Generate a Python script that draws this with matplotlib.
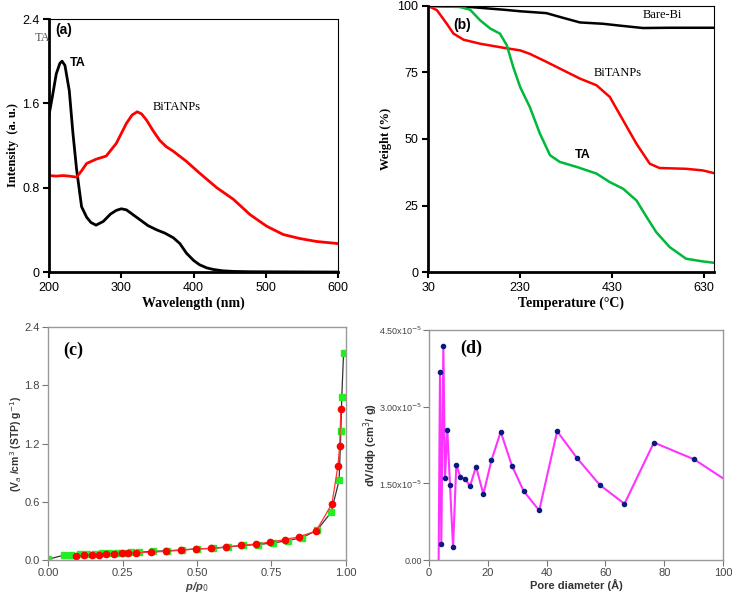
import numpy as np
import matplotlib
matplotlib.use("Agg")
import matplotlib.pyplot as plt
from matplotlib.ticker import FuncFormatter

plt.rcParams['font.family'] = ['Liberation Sans', 'DejaVu Sans']

# (a) UV-vis spectra
wl_ta = [200, 205, 210, 215, 218, 222, 228, 233, 238, 245, 252, 258, 265, 275, 285, 293, 300, 307,
         315, 325, 337, 349, 360, 372, 381, 390, 400, 408, 418, 427, 440, 455, 480, 520, 600]
int_ta = [1.49, 1.68, 1.88, 1.98, 2.0, 1.96, 1.72, 1.32, 0.98, 0.62, 0.52, 0.47, 0.445, 0.48, 0.55,
          0.585, 0.6, 0.59, 0.55, 0.50, 0.44, 0.40, 0.37, 0.325, 0.27, 0.18, 0.11, 0.07, 0.04, 0.025,
          0.012, 0.006, 0.003, 0.002, 0.0]
wl_bi = [200, 210, 219, 228, 238, 245, 252, 265, 279, 293, 307, 315, 322, 328, 335, 344, 353, 362,
         372, 390, 408, 432, 455, 478, 501, 524, 547, 570, 600]
int_bi = [0.915, 0.91, 0.915, 0.91, 0.90, 0.96, 1.03, 1.07, 1.10, 1.22, 1.41, 1.49, 1.52, 1.50,
          1.44, 1.34, 1.25, 1.19, 1.145, 1.05, 0.94, 0.80, 0.69, 0.545, 0.435, 0.356, 0.318, 0.29, 0.27]

# (b) TGA
t_bare = [30, 121, 193, 230, 287, 324, 360, 410, 447, 497, 555, 651]
w_bare = [100, 99.6, 98.6, 98.0, 97.3, 95.5, 93.8, 93.3, 92.6, 91.7, 91.8, 91.8]
t_bitanps = [30, 49, 70, 85, 107, 143, 193, 230, 251, 287, 324, 360, 396, 425, 454, 483, 512,
             533, 591, 627, 651]
w_bitanps = [100, 98.4, 93.4, 89.6, 87.3, 85.8, 84.3, 83.3, 82.0, 79.0, 75.8, 72.7, 70.2, 65.8,
             57.0, 48.2, 40.7, 39.1, 38.8, 38.2, 37.2]
t_ta = [30, 99, 121, 143, 165, 186, 201, 215, 230, 251, 273, 295, 316, 353, 396, 425, 454, 483,
        505, 526, 555, 591, 627, 651]
w_ta = [100, 99.6, 98.6, 94.6, 91.5, 89.6, 85.2, 77.0, 69.5, 62.0, 52.0, 43.9, 41.4, 39.5, 37.0,
        33.8, 31.3, 26.9, 20.7, 15.0, 9.4, 5.0, 4.0, 3.5]

# (c) N2 isotherm
p_ads = [0.0, 0.053, 0.078, 0.107, 0.131, 0.157, 0.18, 0.205, 0.23, 0.256, 0.28, 0.306, 0.353,
         0.40, 0.45, 0.50, 0.555, 0.605, 0.655, 0.705, 0.754, 0.804, 0.852, 0.902, 0.95, 0.977,
         0.983, 0.986, 0.992]
v_ads = [0.007, 0.05, 0.055, 0.06, 0.063, 0.066, 0.068, 0.071, 0.074, 0.077, 0.078, 0.08, 0.09,
         0.095, 0.105, 0.115, 0.12, 0.135, 0.15, 0.16, 0.175, 0.2, 0.23, 0.305, 0.49, 0.82, 1.33,
         1.68, 2.13]
p_des = [0.095, 0.12, 0.146, 0.172, 0.196, 0.22, 0.247, 0.27, 0.295, 0.344, 0.395, 0.446, 0.497,
         0.546, 0.597, 0.647, 0.697, 0.745, 0.794, 0.844, 0.90, 0.953, 0.973, 0.979, 0.983]
v_des = [0.041, 0.048, 0.05, 0.055, 0.058, 0.065, 0.07, 0.07, 0.075, 0.08, 0.09, 0.1, 0.115, 0.12,
         0.135, 0.15, 0.165, 0.185, 0.21, 0.24, 0.30, 0.58, 0.97, 1.18, 1.56]

# (d) pore size distribution (first and last points are line ends only)
pore_d = [3.3, 3.75, 4.2, 4.9, 5.45, 6.25, 7.16, 8.2, 9.3, 10.7, 12.4, 14.0, 16.0, 18.5, 21.25,
          24.4, 28.2, 32.2, 37.5, 43.6, 50.3, 58.1, 66.5, 76.5, 90.2, 100]
dv = [0.0, 3.68, 0.31, 4.19, 1.61, 2.54, 1.47, 0.25, 1.86, 1.63, 1.58, 1.45, 1.83, 1.29, 1.95,
      2.51, 1.85, 1.35, 0.97, 2.52, 2.0, 1.47, 1.10, 2.30, 1.97, 1.60]

serif = ['Liberation Serif', 'DejaVu Serif']

fig = plt.figure(figsize=(7.32, 5.94), dpi=100)

# ---- (a)
ax = fig.add_axes([0.067, 0.542, 0.395, 0.426])
ax.plot(wl_ta, int_ta, color='black', lw=2)
ax.plot(wl_bi, int_bi, color='#ff0000', lw=2)
ax.set_xlim(200, 600)
ax.set_ylim(0, 2.4)
ax.set_xticks([200, 300, 400, 500, 600])
ax.set_yticks([0, 0.8, 1.6, 2.4])
ax.set_yticklabels(['0', '0.8', '1.6', '2.4'])
ax.set_xlabel('Wavelength (nm)', family=serif, fontweight='bold', fontsize=10, labelpad=2)
ax.set_ylabel('Intensity  (a. u.)', family=serif, fontweight='bold', fontsize=9, labelpad=2)
ax.text(208, 2.3, '(a)', fontweight='bold', fontsize=10, va='center')
ax.text(229, 1.98, 'TA', fontweight='bold', fontsize=9, va='center')
ax.text(344, 1.565, 'BiTANPs', family=serif, fontsize=9, va='center')
ax.text(-0.048, 0.925, 'TA', family=serif, fontsize=9, color='#555555', transform=ax.transAxes,
        va='center')

# ---- (b)
bx = fig.add_axes([0.585, 0.542, 0.39, 0.448])
bx.plot(t_bare, w_bare, color='black', lw=1.8)
bx.plot(t_bitanps, w_bitanps, color='#ff0000', lw=1.8)
bx.plot(t_ta, w_ta, color='#00b83a', lw=1.8)
bx.set_xlim(30, 651)
bx.set_ylim(0, 100)
bx.set_xticks([30, 230, 430, 630])
bx.set_yticks([0, 25, 50, 75, 100])
bx.set_xlabel('Temperature (\u00b0C)', family=serif, fontweight='bold', fontsize=10, labelpad=2)
bx.set_ylabel('Weight (%)', family=serif, fontweight='bold', fontsize=9, labelpad=4)
bx.text(85, 92.7, '(b)', fontweight='bold', fontsize=10, va='center')
bx.text(497, 96.5, 'Bare-Bi', family=serif, fontsize=9, va='center')
bx.text(389, 74.8, 'BiTANPs', family=serif, fontsize=9, va='center')
bx.text(349, 43.9, 'TA', fontweight='bold', fontsize=9, va='center')

for a in (ax, bx):
    a.spines['left'].set_linewidth(2)
    a.spines['bottom'].set_linewidth(2)
    a.spines['top'].set_linewidth(0.8)
    a.spines['right'].set_linewidth(0.8)
    a.tick_params(direction='out', length=4, width=1.5, labelsize=9, pad=3)

# ---- (c)
cx = fig.add_axes([0.0656, 0.0572, 0.407, 0.392])
cx.plot(p_ads, v_ads, color='#333333', lw=0.9, marker='s', ms=4, mfc='#22ee22', mec='#22ee22')
cx.plot(p_des, v_des, color='#ff3333', lw=0.9, marker='o', ms=4.5, mfc='#ff0000', mec='#ff0000')
cx.set_xlim(0, 1)
cx.set_ylim(0, 2.4)
cx.set_xticks([0, 0.25, 0.5, 0.75, 1.0])
cx.set_xticklabels(['0.00', '0.25', '0.50', '0.75', '1.00'])
cx.set_yticks([0, 0.6, 1.2, 1.8, 2.4])
cx.set_yticklabels(['0.0', '0.6', '1.2', '1.8', '2.4'])
cx.set_xlabel('p/p$_0$', fontstyle='italic', fontweight='bold', fontsize=8, color='#444444')
cx.xaxis.set_label_coords(0.5, -0.085)
cx.set_ylabel('(V$_a$ /cm$^3$ (STP) g$^{-1}$)', fontweight='bold', fontsize=7.5, color='#333333')
cx.yaxis.set_label_coords(-0.082, 0.5)
cx.text(0.05, 2.16, '(c)', family=serif, fontweight='bold', fontsize=13, va='center')

# ---- (d)
dx = fig.add_axes([0.586, 0.0572, 0.4017, 0.387])
dv_vals = np.array(dv) * 1e-5
dx.plot(pore_d, dv_vals, color='#ff33ff', lw=1.5)
dx.plot(pore_d[1:-1], dv_vals[1:-1], ls='none', marker='o', ms=3, mfc='#0a1a80', mec='#0a1a80')
dx.set_xlim(0, 100)
dx.set_ylim(0, 4.5e-5)
dx.set_xticks([0, 20, 40, 60, 80, 100])
dx.set_yticks([0, 1.5e-5, 3.0e-5, 4.5e-5])


def sci_fmt(v, pos):
    if v == 0:
        return '0.00'
    return '%.2fx10$^{-5}$' % (v * 1e5)


dx.yaxis.set_major_formatter(FuncFormatter(sci_fmt))
dx.set_xlabel('Pore diameter (\u00c5)', fontweight='bold', fontsize=8, color='#333333')
dx.xaxis.set_label_coords(0.5, -0.085)
dx.set_ylabel('dV/ddp (cm$^3$/ g)', fontweight='bold', fontsize=8, color='#333333')
dx.yaxis.set_label_coords(-0.165, 0.5)
dx.text(10.5, 4.15e-5, '(d)', family=serif, fontweight='bold', fontsize=13, va='center')

for a in (cx, dx):
    for s in a.spines.values():
        s.set_color('#999999')
        s.set_linewidth(1)
    a.tick_params(direction='out', length=4, width=0.8, color='#777777', labelsize=8,
                  labelcolor='#444444', pad=2)
dx.tick_params(axis='y', labelsize=6.5, pad=1)

fig.savefig('out.png', dpi=100)
